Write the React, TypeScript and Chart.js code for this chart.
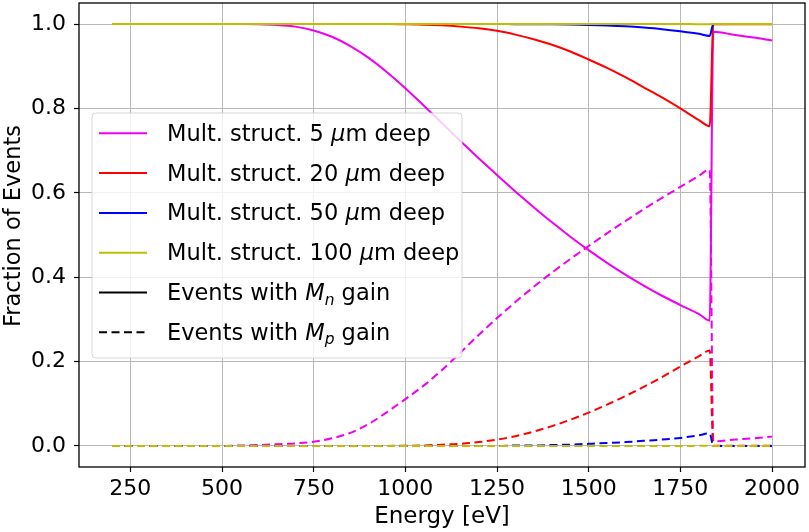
import { useEffect, useRef } from 'react';
import { Chart, registerables } from 'chart.js';

Chart.register(...registerables);

const FONT = '"DejaVu Sans", sans-serif';

// photon energy (eV)
const energies = [
  200, 250, 300, 350, 400, 450, 500, 550, 600, 650, 700, 750, 800, 850, 900, 950,
  1000, 1050, 1100, 1150, 1200, 1250, 1300, 1350, 1400, 1450, 1500, 1550, 1600, 1650,
  1700, 1750, 1800, 1830, 1840, 1900, 1950, 2000,
];

const xTicks = [250, 500, 750, 1000, 1250, 1500, 1750, 2000];
const yTicks = [0, 0.2, 0.4, 0.6, 0.8, 1.0];

// events with Mn gain (solid)
const gainN5 = [
  1.0, 1.0, 1.0, 1.0, 1.0, 1.0, 1.0, 1.0, 0.9996, 0.998, 0.994, 0.985, 0.97, 0.948, 0.92, 0.886,
  0.848, 0.807, 0.765, 0.723, 0.682, 0.642, 0.603, 0.566, 0.53, 0.496, 0.464, 0.434, 0.406, 0.38,
  0.356, 0.334, 0.313, 0.297, 0.982, 0.974, 0.968, 0.961,
];
const gainN20 = [
  1.0, 1.0, 1.0, 1.0, 1.0, 1.0, 1.0, 1.0, 1.0, 1.0, 1.0, 1.0, 1.0, 1.0, 1.0, 1.0,
  0.9995, 0.9987, 0.997, 0.994, 0.99, 0.984, 0.975, 0.964, 0.951, 0.935, 0.916, 0.896, 0.874, 0.85,
  0.826, 0.8, 0.773, 0.758, 0.9995, 0.9996, 0.9997, 0.9998,
];
const gainN50 = [
  1.0, 1.0, 1.0, 1.0, 1.0, 1.0, 1.0, 1.0, 1.0, 1.0, 1.0, 1.0, 1.0, 1.0, 1.0, 1.0,
  1.0, 1.0, 1.0, 1.0, 1.0, 1.0, 0.9999, 0.9998, 0.9995, 0.999, 0.998, 0.9966, 0.9946, 0.9917,
  0.988, 0.983, 0.977, 0.972, 1.0, 1.0, 1.0, 1.0,
];
const gainN100 = [
  1.0, 1.0, 1.0, 1.0, 1.0, 1.0, 1.0, 1.0, 1.0, 1.0, 1.0, 1.0, 1.0, 1.0, 1.0, 1.0,
  1.0, 1.0, 1.0, 1.0, 1.0, 1.0, 1.0, 1.0, 1.0, 1.0, 1.0, 1.0, 1.0, 1.0,
  1.0, 1.0, 0.9999, 0.9999, 1.0, 1.0, 1.0, 1.0,
];

// events with Mp gain (dashed)
const gainP5 = [
  0.0, 0.0, 0.0, 0.0, 0.0, 0.0, 0.0, 0.001, 0.002, 0.004, 0.006, 0.01, 0.018, 0.031, 0.052, 0.08,
  0.111, 0.143, 0.18, 0.221, 0.263, 0.303, 0.341, 0.377, 0.411, 0.443, 0.474, 0.504, 0.533, 0.561,
  0.588, 0.614, 0.64, 0.655, 0.011, 0.015, 0.018, 0.022,
];
const gainP20 = [
  0.0, 0.0, 0.0, 0.0, 0.0, 0.0, 0.0, 0.0, 0.0, 0.0, 0.0, 0.0, 0.0, 0.0, 0.0, 0.0,
  0.0005, 0.001, 0.003, 0.005, 0.009, 0.015, 0.023, 0.034, 0.047, 0.062, 0.079, 0.098, 0.118, 0.14,
  0.163, 0.188, 0.212, 0.226, 0.0003, 0.0003, 0.0003, 0.0003,
];
const gainP50 = [
  0.0, 0.0, 0.0, 0.0, 0.0, 0.0, 0.0, 0.0, 0.0, 0.0, 0.0, 0.0, 0.0, 0.0, 0.0, 0.0,
  0.0, 0.0, 0.0, 0.0, 0.0, 0.0, 0.001, 0.001, 0.002, 0.003, 0.005, 0.007, 0.009, 0.012,
  0.015, 0.019, 0.025, 0.03, 0.0, 0.0, 0.0, 0.0,
];
const gainP100 = [
  0.0, 0.0, 0.0, 0.0, 0.0, 0.0, 0.0, 0.0, 0.0, 0.0, 0.0, 0.0, 0.0, 0.0, 0.0, 0.0,
  0.0, 0.0, 0.0, 0.0, 0.0, 0.0, 0.0, 0.0, 0.0, 0.0, 0.0, 0.0, 0.0, 0.0,
  0.0, 0.0, 0.0001, 0.0001, 0.0, 0.0, 0.0, 0.0,
];

const depths = ['5', '20', '50', '100'];
const colors = ['#f000f0', '#ff0000', '#0000ff', '#bfbf00'];
const solidSeries = [gainN5, gainN20, gainN50, gainN100];
const dashedSeries = [gainP5, gainP20, gainP50, gainP100];

const DASH = [8, 4.5];

type Seg = { t: string; it?: boolean; sub?: boolean };

const legendRows: { color: string; dash: number[]; segs: Seg[] }[] = [
  ...depths.map((d, i) => ({
    color: colors[i],
    dash: [] as number[],
    segs: [{ t: `Mult. struct. ${d} ` }, { t: 'μ', it: true }, { t: 'm deep' }],
  })),
  {
    color: '#000',
    dash: [],
    segs: [{ t: 'Events with ' }, { t: 'M', it: true }, { t: 'n', it: true, sub: true }, { t: ' gain' }],
  },
  {
    color: '#000',
    dash: DASH,
    segs: [{ t: 'Events with ' }, { t: 'M', it: true }, { t: 'p', it: true, sub: true }, { t: ' gain' }],
  },
];

const frameAndLegend = {
  id: 'frameAndLegend',
  afterDatasetsDraw(chart: Chart) {
    const { ctx, chartArea: a } = chart;
    ctx.save();
    ctx.setLineDash([]);
    ctx.strokeStyle = '#000';
    ctx.lineWidth = 1.3;
    ctx.strokeRect(a.left, a.top, a.right - a.left, a.bottom - a.top);

    // legend box, upper-left inside the axes
    const bx = a.left + 13;
    const by = a.top + 110;
    const bw = 370;
    const bh = 245;
    ctx.beginPath();
    ctx.roundRect(bx, by, bw, bh, 4);
    ctx.fillStyle = 'rgba(255,255,255,0.8)';
    ctx.fill();
    ctx.strokeStyle = 'rgba(204,204,204,0.8)';
    ctx.lineWidth = 1;
    ctx.stroke();

    legendRows.forEach((row, i) => {
      const y = by + 20.3 + i * 39.8;
      ctx.beginPath();
      ctx.setLineDash(row.dash);
      ctx.strokeStyle = row.color;
      ctx.lineWidth = 2;
      ctx.moveTo(bx + 7, y);
      ctx.lineTo(bx + 55, y);
      ctx.stroke();
      ctx.setLineDash([]);

      let x = bx + 75;
      ctx.fillStyle = '#000';
      ctx.textBaseline = 'alphabetic';
      ctx.textAlign = 'left';
      row.segs.forEach((s) => {
        ctx.font = `${s.it ? 'italic ' : ''}${s.sub ? 15.5 : 22.5}px ${FONT}`;
        ctx.fillText(s.t, x, y + 7.5 + (s.sub ? 4.5 : 0));
        x += ctx.measureText(s.t).width;
      });
    });

    // y axis title
    ctx.translate(14, 226);
    ctx.rotate(-Math.PI / 2);
    ctx.font = `22.5px ${FONT}`;
    ctx.textAlign = 'center';
    ctx.textBaseline = 'middle';
    ctx.fillStyle = '#000';
    ctx.fillText('Fraction of Events', 0, 0);
    ctx.restore();
  },
};

export default function App() {
  const canvasRef = useRef<HTMLCanvasElement>(null);
  const chartRef = useRef<Chart | null>(null);

  useEffect(() => {
    if (!canvasRef.current) return;
    if (chartRef.current) chartRef.current.destroy();

    const datasets: any[] = [];
    depths.forEach((_, i) => {
      datasets.push({
        label: `solid ${depths[i]}`,
        data: energies.map((e, k) => ({ x: e, y: solidSeries[i][k] })),
        borderColor: colors[i],
        borderDash: [],
      });
      datasets.push({
        label: `dashed ${depths[i]}`,
        data: energies.map((e, k) => ({ x: e, y: dashedSeries[i][k] })),
        borderColor: colors[i],
        borderDash: DASH,
      });
    });
    // later series on top, like matplotlib
    datasets.forEach((d, i) => {
      d.order = datasets.length - i;
      d.borderWidth = 2;
      d.pointRadius = 0;
      d.fill = false;
      d.cubicInterpolationMode = 'monotone';
    });

    const gridOpts = {
      color: '#b8b8b8',
      lineWidth: 1,
      drawTicks: true,
      tickLength: 5,
      tickColor: '#000',
      tickWidth: 1.2,
    };

    chartRef.current = new Chart(canvasRef.current, {
      type: 'line',
      data: { datasets },
      options: {
        animation: false,
        responsive: false,
        devicePixelRatio: 1,
        layout: { padding: { top: 3, right: 4, left: 0, bottom: 0 } },
        plugins: { legend: { display: false }, tooltip: { enabled: false } },
        scales: {
          x: {
            type: 'linear',
            min: 110,
            max: 2090,
            border: { display: false },
            grid: gridOpts,
            ticks: {
              autoSkip: false,
              maxRotation: 0,
              padding: 4,
              color: '#000',
              font: { family: FONT, size: 22, lineHeight: 1.2 },
              callback: (v: any) => String(v),
            },
            afterBuildTicks: (s: any) => {
              s.ticks = xTicks.map((v) => ({ value: v }));
            },
            title: {
              display: true,
              text: 'Energy [eV]',
              color: '#000',
              font: { family: FONT, size: 23, lineHeight: 1.2 },
              padding: { top: 0, bottom: 1.2 },
            },
            afterFit: (s: any) => {
              s.height = 65;
              s.paddingLeft = 0;
              s.paddingRight = 0;
            },
          },
          y: {
            type: 'linear',
            min: -0.05,
            max: 1.05,
            border: { display: false },
            grid: gridOpts,
            ticks: {
              autoSkip: false,
              padding: 8,
              color: '#000',
              font: { family: FONT, size: 22, lineHeight: 1.2 },
              callback: (v: any) => Number(v).toFixed(1),
            },
            afterBuildTicks: (s: any) => {
              s.ticks = yTicks.map((v) => ({ value: v }));
            },
            title: { display: false },
            afterFit: (s: any) => {
              s.width = 79;
              s.paddingTop = 0;
              s.paddingBottom = 0;
            },
          },
        },
      },
      plugins: [frameAndLegend],
    });

    return () => {
      if (chartRef.current) {
        chartRef.current.destroy();
        chartRef.current = null;
      }
    };
  }, []);

  return (
    <div style={{ position: 'absolute', left: 0, top: 0, width: 809, height: 532, background: '#fff' }}>
      <canvas ref={canvasRef} width={809} height={532} />
    </div>
  );
}
